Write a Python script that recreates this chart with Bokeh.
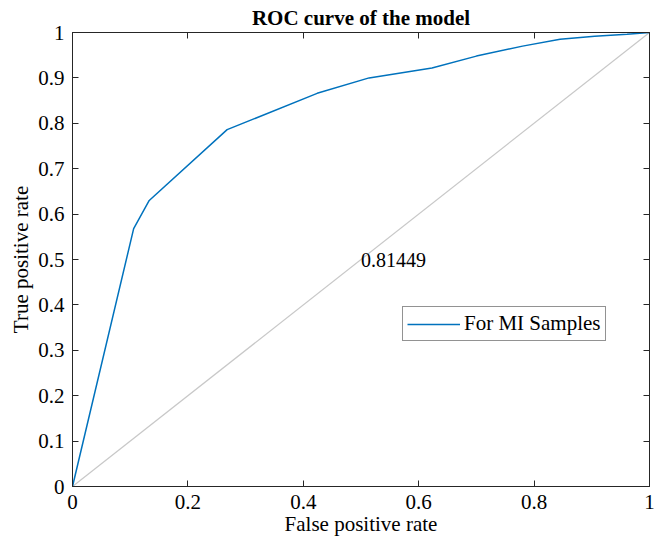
from bokeh.plotting import figure
from bokeh.models import Range1d, LinearAxis, FixedTicker, Label, Legend, LegendItem, CustomJSTickFormatter
from bokeh.embed import file_html
from bokeh.resources import INLINE

# data
fpr = [0, 0.106, 0.133, 0.268, 0.424, 0.514, 0.623, 0.70, 0.78, 0.845, 0.905, 0.961, 1.0]
tpr = [0, 0.568, 0.630, 0.786, 0.866, 0.900, 0.922, 0.948, 0.970, 0.985, 0.992, 0.996, 1.0]
diag_x = [0, 1]
diag_y = [0, 1]
auc_text = "0.81449"
auc_pos = (0.5, 0.5)
x_ticks = [0, 0.2, 0.4, 0.6, 0.8, 1.0]
x_tick_labels = ["0", "0.2", "0.4", "0.6", "0.8", "1"]
y_ticks = [0, 0.1, 0.2, 0.3, 0.4, 0.5, 0.6, 0.7, 0.8, 0.9, 1.0]
y_tick_labels = ["0", "0.1", "0.2", "0.3", "0.4", "0.5", "0.6", "0.7", "0.8", "0.9", "1"]
series_name = "For MI Samples"
title_text = "ROC curve of the model"
x_label = "False positive rate"
y_label = "True positive rate"

FONT = "Liberation Serif"
FS = "21px"
AX = "#262626"

p = figure(width=659, height=547, output_backend="svg", toolbar_location=None,
           x_range=Range1d(0, 1), y_range=Range1d(0, 1),
           x_axis_location=None, y_axis_location=None,
           min_border_left=72, min_border_right=10, min_border_top=32, min_border_bottom=61)
p.grid.visible = False
p.outline_line_color = AX
p.outline_line_width = 1
p.background_fill_color = "white"
p.border_fill_color = "white"

p.title.text = title_text
p.title.text_font = FONT
p.title.text_font_size = FS
p.title.text_font_style = "bold"
p.title.align = "center"
p.title.text_color = "black"
p.title.standoff = 6

LABEL_JS = """
for (let i = 0; i < tvals.length; i++) {
    if (Math.abs(tvals[i] - tick) < 1e-9) { return tlabels[i]; }
}
return "";
"""


def style_axis(ax, ticks, labels, show_labels=True):
    ax.ticker = FixedTicker(ticks=ticks)
    ax.major_tick_in = 6
    ax.major_tick_out = 0
    ax.minor_tick_in = 0
    ax.minor_tick_out = 0
    ax.axis_line_color = AX
    ax.major_tick_line_color = AX
    ax.major_label_text_font = FONT
    ax.major_label_text_font_size = FS
    ax.major_label_text_color = "black"
    ax.axis_label_text_font = FONT
    ax.axis_label_text_font_size = FS
    ax.axis_label_text_font_style = "normal"
    ax.axis_label_text_color = "black"
    if show_labels:
        ax.formatter = CustomJSTickFormatter(args=dict(tvals=ticks, tlabels=labels), code=LABEL_JS)
    else:
        ax.major_label_text_font_size = "1px"
        ax.major_label_text_alpha = 0
        ax.major_label_standoff = 0
        ax.formatter = CustomJSTickFormatter(code="return ' ';")


xb = LinearAxis(axis_label=x_label)
style_axis(xb, x_ticks, x_tick_labels)
xb.major_label_standoff = 8
xb.axis_label_standoff = 0
p.add_layout(xb, "below")

yl = LinearAxis(axis_label=y_label)
style_axis(yl, y_ticks, y_tick_labels)
yl.major_label_standoff = 8
yl.axis_label_standoff = 2
p.add_layout(yl, "left")

xt = LinearAxis()
style_axis(xt, x_ticks, x_tick_labels, show_labels=False)
p.add_layout(xt, "above")

yr = LinearAxis()
style_axis(yr, y_ticks, y_tick_labels, show_labels=False)
p.add_layout(yr, "right")

p.line(diag_x, diag_y, line_color="#c8c8c8", line_width=1.2)
r = p.line(fpr, tpr, line_color="#0072BD", line_width=1.5)

p.add_layout(Label(x=auc_pos[0], y=auc_pos[1], text=auc_text, text_font=FONT,
                   text_font_size="20px", text_baseline="middle", text_align="left",
                   text_color="black"))

legend = Legend(items=[LegendItem(label=series_name, renderers=[r])],
                location=(330, 145), label_text_font=FONT, label_text_font_size=FS,
                label_text_color="black", border_line_color=AX, border_line_width=1,
                glyph_width=53, glyph_height=20, padding=4, margin=0, spacing=0,
                label_standoff=4, label_height=20,
                background_fill_color="white", background_fill_alpha=1)
p.add_layout(legend, "center")

open("out.html", "w").write(file_html(p, INLINE))
